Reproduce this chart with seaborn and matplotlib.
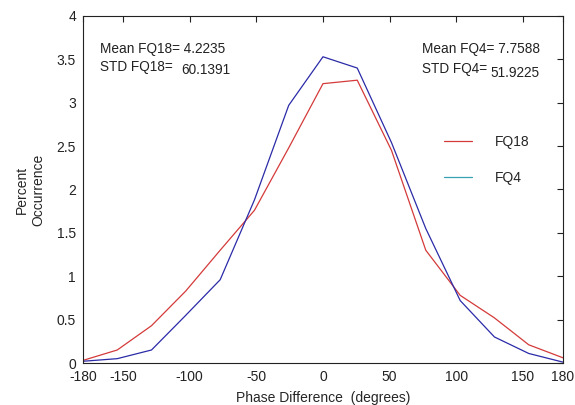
import matplotlib
matplotlib.use("Agg")
import matplotlib.pyplot as plt
from matplotlib.lines import Line2D
import numpy as np
import pandas as pd
import seaborn as sns

# bin centres (degrees), 15 bins of 360/14
phase = [-180, -154.3, -128.6, -102.9, -77.1, -51.4, -25.7, 0,
         25.7, 51.4, 77.1, 102.9, 128.6, 154.3, 180]
fq18 = [0.03, 0.15, 0.43, 0.83, 1.30, 1.76, 2.48, 3.22,
        3.26, 2.45, 1.30, 0.78, 0.52, 0.21, 0.06]
fq4 = [0.02, 0.05, 0.15, 0.55, 0.96, 1.88, 2.97, 3.53,
       3.40, 2.54, 1.55, 0.72, 0.30, 0.11, 0.01]

RED = "#d43a3a"
BLUE = "#2b2ba8"
TEAL = "#3aa0b4"

df = pd.DataFrame({
    "phase": phase * 2,
    "pct": fq18 + fq4,
    "serie": ["FQ18"] * len(phase) + ["FQ4"] * len(phase),
})

sns.set_style("white")
plt.rcParams["font.family"] = ["Liberation Sans", "DejaVu Sans"]
plt.rcParams["axes.unicode_minus"] = False

fig = plt.figure(figsize=(5.75, 4.05), dpi=100)
ax = fig.add_axes([0.1443, 0.1037, 0.8348, 0.8568])

sns.lineplot(data=df, x="phase", y="pct", hue="serie",
             palette={"FQ18": RED, "FQ4": BLUE}, linewidth=0.9,
             legend=False, ax=ax)

ax.set_xlim(-180, 180)
ax.set_ylim(0, 4)
ax.set_xticks([-180, -150, -100, -50, 0, 50, 100, 150, 180])
ax.set_yticks(np.arange(0, 4.01, 0.5))
ax.set_yticklabels(["0", "0.5", "1", "1.5", "2", "2.5", "3", "3.5", "4"])
ax.tick_params(direction="in", length=4, width=0.8, labelsize=10,
               top=True, right=True, colors="#222222")
ax.tick_params(axis="y", pad=5)
ax.tick_params(axis="x", pad=5)
for s in ax.spines.values():
    s.set_color("#222222")
    s.set_linewidth(0.8)

ax.set_xlabel("Phase Difference  (degrees)", fontsize=10, labelpad=5)
ax.set_ylabel("Percent\nOccurrence", fontsize=10, labelpad=8)

kw = dict(transform=ax.transAxes, fontsize=9.8, color="#222222", va="center")
ax.text(0.035, 0.904, "Mean FQ18= 4.2235", **kw)
ax.text(0.035, 0.852, "STD FQ18=", **kw)
ax.text(0.204, 0.843, "60.1391", **kw)
ax.text(0.707, 0.904, "Mean FQ4= 7.7588", **kw)
ax.text(0.707, 0.846, "STD FQ4=", **kw)
ax.text(0.848, 0.837, "51.9225", **kw)

handles = [Line2D([], [], color=RED, linewidth=0.9),
           Line2D([], [], color=TEAL, linewidth=0.9)]
ax.legend(handles, ["FQ18", "FQ4"], loc="upper left",
          bbox_to_anchor=(0.727, 0.693), frameon=False, fontsize=10,
          handlelength=2.0, handletextpad=1.6, labelspacing=1.6)

fig.savefig("out.png", dpi=100)
